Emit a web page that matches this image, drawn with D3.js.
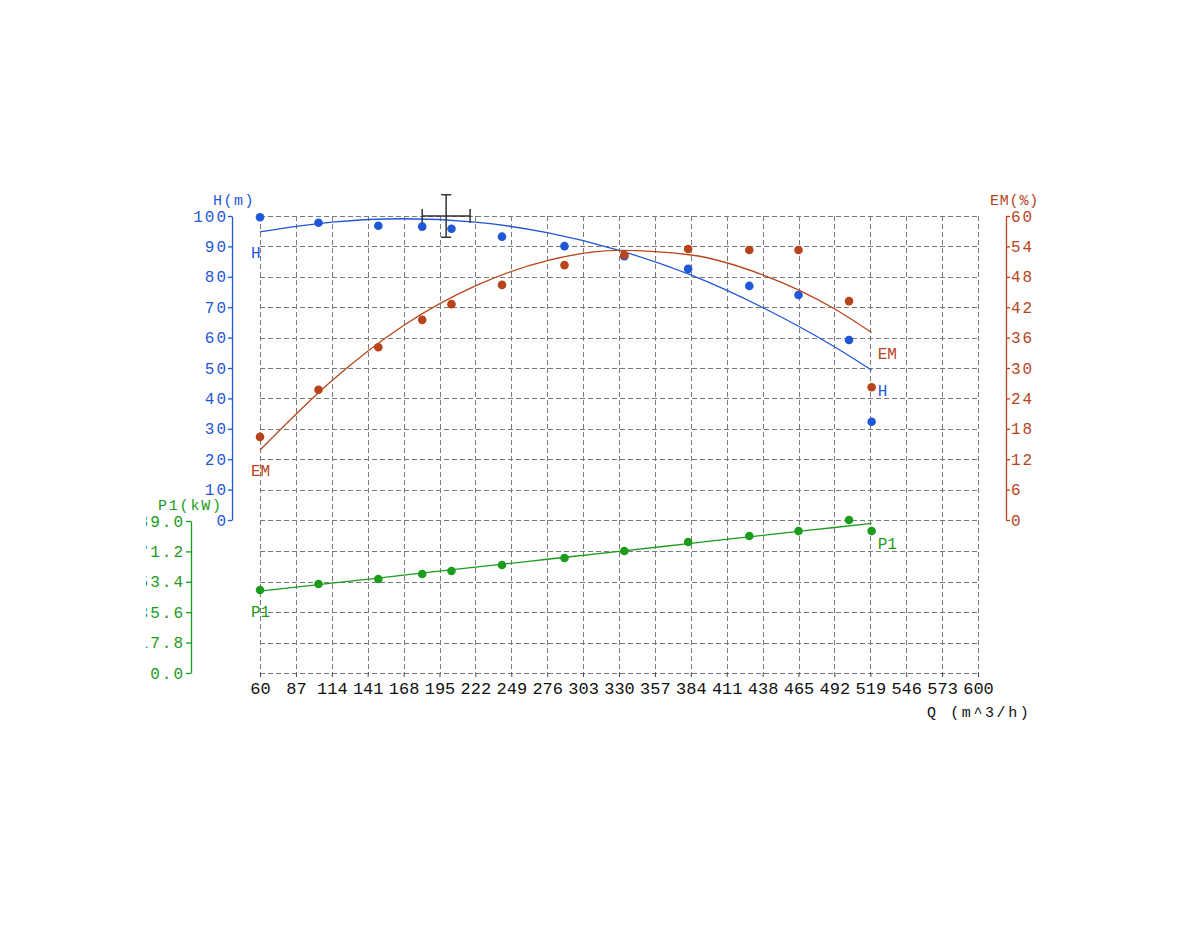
<!DOCTYPE html>
<html>
<head>
<meta charset="utf-8">
<script src="https://cdn.jsdelivr.net/npm/d3@7"></script>
<style>
    body { margin: 0; background: #fff; }
    text { font-family: "Liberation Mono", "DejaVu Sans Mono", monospace; }
</style>
</head>
<body>
<script>
// tick labels
const q_ticks = [60, 87, 114, 141, 168, 195, 222, 249, 276, 303, 330, 357, 384, 411, 438, 465, 492, 519, 546, 573, 600];
const h_ticks = [0, 10, 20, 30, 40, 50, 60, 70, 80, 90, 100];
const em_ticks = [0, 6, 12, 18, 24, 30, 36, 42, 48, 54, 60];
const p1_ticks = [0, 17.8, 35.6, 53.4, 71.2, 89.0];

// measured points
const q_pts = [60, 104, 149, 182, 204, 242, 289, 334, 382, 428, 465, 503, 520];
const h_pts = [99.6, 97.8, 96.8, 96.5, 95.8, 93.2, 90.1, 86.8, 82.6, 77.0, 74.0, 59.2, 32.3];
const em_pts = [16.4, 25.7, 34.1, 39.5, 42.6, 46.4, 50.3, 52.3, 53.5, 53.3, 53.3, 43.2, 26.2];
const p1_pts = [48.6, 52.1, 55.0, 58.0, 59.7, 63.2, 67.3, 71.4, 76.7, 80.2, 83.1, 89.6, 83.1];

// fitted curves
const q_fit = [60, 114, 168, 222, 276, 330, 384, 438, 492, 520];
const h_fit = [94.8, 98.0, 99.1, 98.0, 94.5, 88.7, 80.6, 69.9, 57.0, 49.3];
const em_fit = [13.8, 27.5, 38.4, 46.2, 51.2, 53.2, 52.3, 48.4, 41.7, 37.0];
const p1_fit = [48.0, 52.6, 57.3, 62.0, 66.6, 71.2, 75.9, 80.6, 85.2, 87.6];

// duty point with tolerance
const duty = {q: 200, h: 100, dq: 18, dh: 7};

const blue = '#1f57d6', brown = '#b7441a', green = '#1c9c1c', grid_color = '#7a7a7a';

const svg = d3.select('body').append('svg').attr('width', 1200).attr('height', 950);

const x = d3.scaleLinear().domain([60, 600]).range([260, 978]);
const y_h = d3.scaleLinear().domain([0, 100]).range([520, 216]);
const y_em = d3.scaleLinear().domain([0, 60]).range([520, 216]);
const y_p1 = d3.scaleLinear().domain([0, 89]).range([673, 521]);

// grid
const grid = svg.append('g').attr('stroke', grid_color).attr('stroke-width', 1).attr('stroke-dasharray', '5,3');
const grid_rows = h_ticks.map(y_h).concat(p1_ticks.filter(v => v < 89).map(y_p1));
grid.selectAll('line.h').data(grid_rows).join('line').attr('class', 'h')
    .attr('x1', x(60)).attr('x2', x(600))
    .attr('y1', d => Math.round(d) + 0.5).attr('y2', d => Math.round(d) + 0.5);
grid.selectAll('line.v').data(q_ticks).join('line').attr('class', 'v')
    .attr('x1', d => Math.round(x(d)) + 0.5).attr('x2', d => Math.round(x(d)) + 0.5)
    .attr('y1', y_h(100)).attr('y2', y_p1(0));

// axes
const x_axis = svg.append('g').attr('transform', `translate(0,${y_p1(0)})`)
    .call(d3.axisBottom(x).tickValues(q_ticks).tickSize(4).tickPadding(5).tickFormat(d3.format('d')));
x_axis.select('.domain').remove();
x_axis.selectAll('line').attr('stroke', '#444');
x_axis.selectAll('text').attr('fill', '#111').attr('font-size', 17)
    .attr('font-family', '"Liberation Mono", monospace');

function style_axis(g, color, size, spacing) {
    g.select('.domain').attr('stroke', color).attr('stroke-width', 1.3);
    g.selectAll('line').attr('stroke', color).attr('stroke-width', 1.3);
    g.selectAll('text').attr('fill', color).attr('font-size', size).attr('letter-spacing', spacing)
        .attr('font-family', '"Liberation Mono", monospace');
}

const h_axis = svg.append('g').attr('transform', 'translate(232,0)')
    .call(d3.axisLeft(y_h).tickValues(h_ticks).tickSize(4).tickSizeOuter(0).tickPadding(0));
style_axis(h_axis, blue, 16, 2);

const em_axis = svg.append('g').attr('transform', 'translate(1006,0)')
    .call(d3.axisRight(y_em).tickValues(em_ticks).tickSize(4).tickSizeOuter(0).tickPadding(1));
style_axis(em_axis, brown, 16, 2);

// P1 labels are cut off on the left, as in the original
svg.append('clipPath').attr('id', 'p1-clip')
    .append('rect').attr('x', 146).attr('y', 480).attr('width', 100).attr('height', 220);
const p1_axis = svg.append('g').attr('clip-path', 'url(#p1-clip)')
    .append('g').attr('transform', 'translate(191,0)')
    .call(d3.axisLeft(y_p1).tickValues(p1_ticks).tickSize(5).tickSizeOuter(0).tickPadding(1)
        .tickFormat(d3.format('.1f')));
style_axis(p1_axis, green, 16, 2);

// axis titles
const titles = [
    {text: 'H(m)', x: 213, y: 205, color: blue, spacing: 1.5},
    {text: 'EM(%)', x: 990, y: 205, color: brown, spacing: 0.8},
    {text: 'P1(kW)', x: 158, y: 510, color: green, spacing: 1.8},
    {text: 'Q (m^3/h)', x: 927, y: 717, color: '#111', spacing: 2.6}
];
svg.selectAll('text.title').data(titles).join('text').attr('class', 'title')
    .attr('x', d => d.x).attr('y', d => d.y).attr('fill', d => d.color)
    .attr('font-size', 15).attr('letter-spacing', d => d.spacing).text(d => d.text);

// curves and points
const series = [
    {name: 'H', scale: y_h, fit: h_fit, pts: h_pts, color: blue},
    {name: 'EM', scale: y_em, fit: em_fit, pts: em_pts, color: brown},
    {name: 'P1', scale: y_p1, fit: p1_fit, pts: p1_pts, color: green}
];

series.forEach(s => {
    const line = d3.line().x((d, i) => x(q_fit[i])).y(d => s.scale(d)).curve(d3.curveMonotoneX);
    svg.append('path').datum(s.fit).attr('d', line)
        .attr('fill', 'none').attr('stroke', s.color).attr('stroke-width', 1.3);
    svg.append('g').selectAll('circle').data(s.pts).join('circle')
        .attr('cx', (d, i) => x(q_pts[i])).attr('cy', d => s.scale(d))
        .attr('r', 4.3).attr('fill', s.color);
    const first = s.fit[0], last = s.fit[s.fit.length - 1];
    svg.append('text').attr('x', x(q_fit[0]) - 9).attr('y', s.scale(first) + 26)
        .attr('fill', s.color).attr('font-size', 16).text(s.name);
    svg.append('text').attr('x', x(q_fit[q_fit.length - 1]) + 6).attr('y', s.scale(last) + 26)
        .attr('fill', s.color).attr('font-size', 16).text(s.name);
});

// duty point cross
const cross = svg.append('g').attr('stroke', '#333').attr('stroke-width', 1.5);
const cx = x(duty.q), cy = y_h(duty.h);
const qx0 = x(duty.q - duty.dq), qx1 = x(duty.q + duty.dq);
const hy0 = y_h(duty.h + duty.dh), hy1 = y_h(duty.h - duty.dh);
cross.append('line').attr('x1', qx0).attr('x2', qx1).attr('y1', cy).attr('y2', cy);
cross.append('line').attr('x1', cx).attr('x2', cx).attr('y1', hy0).attr('y2', hy1);
cross.append('line').attr('x1', qx0).attr('x2', qx0).attr('y1', cy - 7).attr('y2', cy + 7);
cross.append('line').attr('x1', qx1).attr('x2', qx1).attr('y1', cy - 7).attr('y2', cy + 7);
cross.append('line').attr('x1', cx - 5).attr('x2', cx + 5).attr('y1', hy0).attr('y2', hy0);
cross.append('line').attr('x1', cx - 5).attr('x2', cx + 5).attr('y1', hy1).attr('y2', hy1);
</script>
</body>
</html>
